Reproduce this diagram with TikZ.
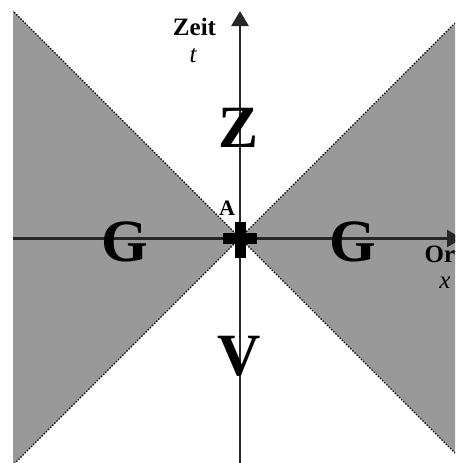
\documentclass[tikz,border=0pt]{standalone}
\usepackage{fontspec}
\setmainfont{Liberation Serif}
\usetikzlibrary{arrows.meta}
\definecolor{conegray}{RGB}{153,153,153}
\tikzset{
  cone/.style={fill=conegray, draw=none},
  coneedge/.style={draw=black, line width=1.4pt, dash pattern=on 1.4pt off 1.6pt},
  axis/.style={draw=black!85, line width=2.6pt},
  bigletter/.style={font=\fontsize{60}{60}\selectfont\bfseries, inner sep=0pt},
  axlabel/.style={font=\fontsize{25}{25}\selectfont\bfseries, inner sep=0pt},
  axvar/.style={font=\fontsize{25}{25}\selectfont\itshape, inner sep=0pt},
}
\begin{document}
\begin{tikzpicture}[x=1pt,y=-1pt]
\useasboundingbox (0,0) rectangle (455,463);
\clip (0,0) rectangle (455,463);
\fill[white] (0,0) rectangle (455,463);
\coordinate (O) at (240,238);
\coordinate (LT) at (13,11);
\coordinate (LB) at (13,465);
\coordinate (RT) at (455,23);
\coordinate (RB) at (455,453);
\coordinate (tTop) at (240,11);
\coordinate (tBot) at (240,466);
\coordinate (xL) at (13,238.5);
\coordinate (xR) at (462,238.5);
% cones
\fill[cone] (LT) -- (O) -- (LB) -- cycle;
\fill[cone] (RT) -- (O) -- (RB) -- (460,453) -- (460,23) -- cycle;
\draw[coneedge] (O) -- (LT);
\draw[coneedge] (O) -- (LB);
\draw[coneedge] (O) -- (RT);
\draw[coneedge] (O) -- (RB);
% axes
\draw[axis, -{Triangle[width=17pt,length=15pt]}] (tBot) -- (tTop);
\draw[axis, -{Triangle[width=17pt,length=15pt]}] (xL) -- (xR);
% event marker
\fill[black] (222.5,233) rectangle (257,243.5);
\fill[black] (235,221.5) rectangle (245.5,258);
% labels
\node[bigletter] (Z) at (238.5,128) {Z};
\node[bigletter] (V) at (239,356) {V};
\node[bigletter] (G1) at (125,242) {G};
\node[bigletter] (G2) at (353,242) {G};
\node[font=\fontsize{22}{22}\selectfont\bfseries, inner sep=0pt] (A) at (227,208) {A};
\node[axlabel, anchor=base] (zeit) at (194.5,35) {Zeit};
\node[axvar] (tlab) at (193,56) {t};
\node[axlabel, anchor=base west] (ort) at (424.5,262) {Ort};
\node[axvar] (xlab) at (445,283) {x};
\end{tikzpicture}
\end{document}
